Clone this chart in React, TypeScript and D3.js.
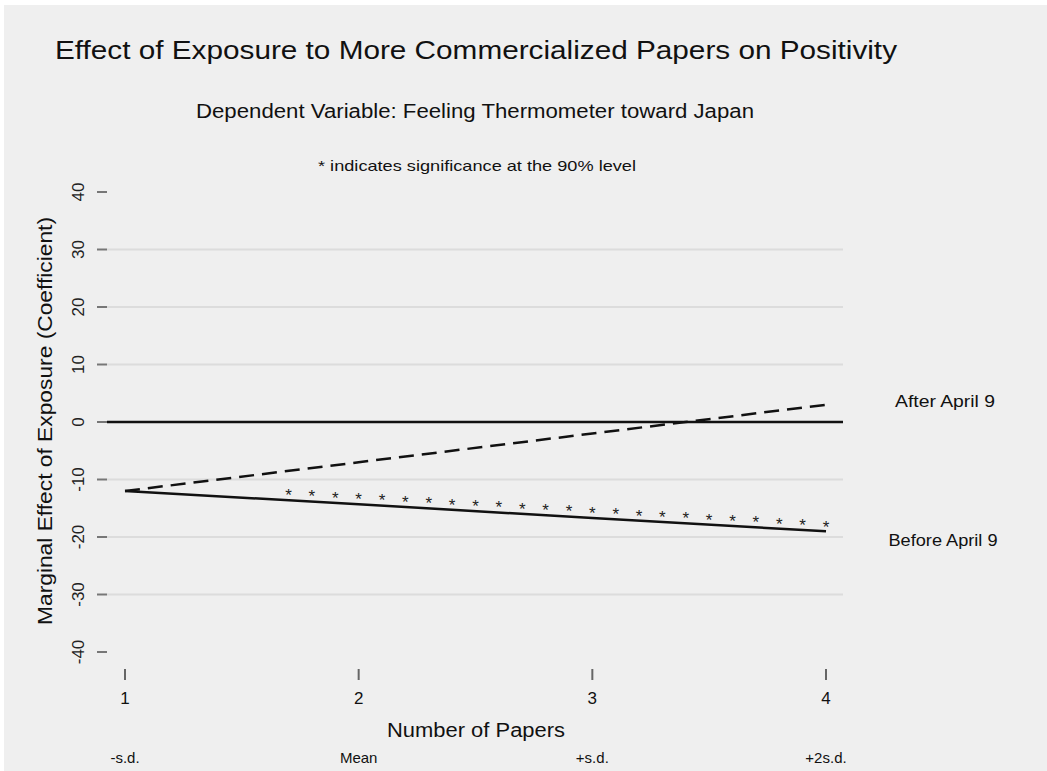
import React from "react";
import * as d3 from "d3";

const papers = [1, 2, 3, 4];
const sdLabels = ["-s.d.", "Mean", "+s.d.", "+2s.d."];
const beforeApril9 = [-12, -14.3, -16.7, -19];
const afterApril9 = [-12, -7, -2, 3];
const yTicks = [-40, -30, -20, -10, 0, 10, 20, 30, 40];
const gridTicks = [-30, -20, -10, 10, 20, 30];
const starX = [1.7, 1.8, 1.9, 2.0, 2.1, 2.2, 2.3, 2.4, 2.5, 2.6, 2.7, 2.8, 2.9, 3.0, 3.1, 3.2, 3.3, 3.4, 3.5, 3.6, 3.7, 3.8, 3.9, 4.0];
const starY = [-12.4, -12.6, -12.8, -13.1, -13.3, -13.6, -13.8, -14.0, -14.3, -14.5, -14.8, -15.0, -15.2, -15.5, -15.7, -16.0, -16.2, -16.4, -16.7, -16.9, -17.1, -17.4, -17.6, -17.9];

const W = 1047;
const H = 771;
const FONT = "'Liberation Sans', Arial, sans-serif";

export default function App() {
  const x = d3.scaleLinear().domain([1, 4]).range([125, 826]);
  const y = d3.scaleLinear().domain([-40, 40]).range([652, 192]);
  const line = d3
    .line<number>()
    .x((_, i) => x(papers[i]))
    .y((d) => y(d));

  return (
    <svg
      width={W}
      height={H}
      style={{ position: "absolute", left: 0, top: 0, display: "block" }}
      fontFamily={FONT}
    >
      <rect x={0} y={0} width={W} height={H} fill="#ffffff" />
      <rect x={4} y={5} width={W - 4} height={H - 5} fill="#efefef" />

      <text x={55} y={59} fontSize={26} fill="#111" textLength={842} lengthAdjust="spacingAndGlyphs">
        Effect of Exposure to More Commercialized Papers on Positivity
      </text>
      <text x={475} y={118} fontSize={20} fill="#111" textAnchor="middle" textLength={558} lengthAdjust="spacingAndGlyphs">
        Dependent Variable: Feeling Thermometer toward Japan
      </text>
      <text x={477} y={171} fontSize={15} fill="#111" textAnchor="middle" textLength={318} lengthAdjust="spacingAndGlyphs">
        * indicates significance at the 90% level
      </text>

      {gridTicks.map((t) => (
        <line key={"g" + t} x1={107} x2={843} y1={y(t)} y2={y(t)} stroke="#dcdcdc" strokeWidth={2} />
      ))}
      {yTicks.map((t) => (
        <g key={"t" + t}>
          <line x1={97} x2={107} y1={y(t)} y2={y(t)} stroke="#777" strokeWidth={2} />
          <text
            transform={`translate(${84},${y(t)}) rotate(-90)`}
            textAnchor="middle"
            fontSize={17}
            fill="#222"
          >
            {t}
          </text>
        </g>
      ))}
      <line x1={107} x2={843} y1={y(0)} y2={y(0)} stroke="#111" strokeWidth={2.5} />

      <text
        transform={`translate(${52},${421}) rotate(-90)`}
        textAnchor="middle"
        fontSize={20}
        fill="#111"
        textLength={408}
        lengthAdjust="spacingAndGlyphs"
      >
        Marginal Effect of Exposure (Coefficient)
      </text>

      <path d={line(afterApril9) || ""} fill="none" stroke="#111" strokeWidth={2.5} strokeDasharray="15,8" />
      <path d={line(beforeApril9) || ""} fill="none" stroke="#111" strokeWidth={2.5} />

      {starX.map((sx, i) => (
        <text key={"s" + i} x={x(sx)} y={y(starY[i]) + 8} fontSize={17} textAnchor="middle" fill="#222">
          *
        </text>
      ))}

      <text x={945} y={407} fontSize={17} textAnchor="middle" fill="#111" textLength={100} lengthAdjust="spacingAndGlyphs">After April 9</text>
      <text x={943} y={546} fontSize={17} textAnchor="middle" fill="#111" textLength={109} lengthAdjust="spacingAndGlyphs">Before April 9</text>

      {papers.map((p, i) => (
        <g key={"x" + p}>
          <line x1={x(p)} x2={x(p)} y1={669} y2={680} stroke="#666" strokeWidth={2} />
          <text x={x(p)} y={704} fontSize={17} textAnchor="middle" fill="#111">{p}</text>
          <text x={x(p)} y={763} fontSize={15} textAnchor="middle" fill="#111">{sdLabels[i]}</text>
        </g>
      ))}
      <text x={476} y={737} fontSize={20} textAnchor="middle" fill="#111" textLength={178} lengthAdjust="spacingAndGlyphs">
        Number of Papers
      </text>
    </svg>
  );
}
